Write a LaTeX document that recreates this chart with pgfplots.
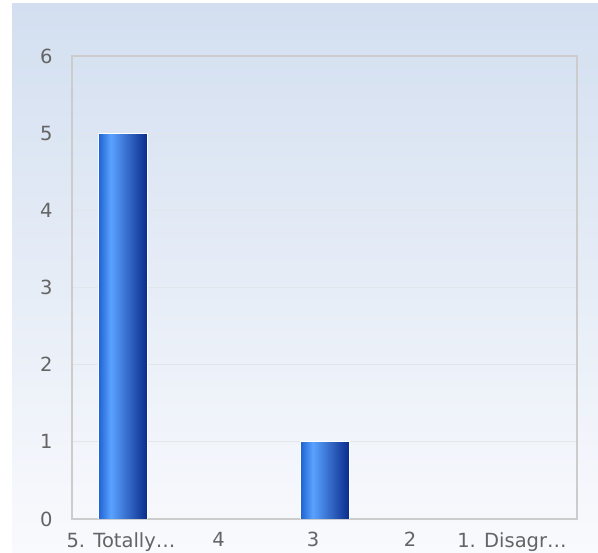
\documentclass[border=0pt]{standalone}
\usepackage{pgfplots}
\pgfplotsset{compat=1.18}
\usepackage{fontspec}
\setmainfont{DejaVu Sans}

\definecolor{bgtop}{RGB}{211,223,240}
\definecolor{bgbot}{RGB}{249,250,253}
\definecolor{gridc}{RGB}{226,229,234}
\definecolor{framec}{RGB}{204,204,204}
\definecolor{txt}{RGB}{100,100,100}
\definecolor{barA}{RGB}{28,96,208}
\definecolor{barB}{RGB}{90,162,255}
\definecolor{barC}{RGB}{10,44,140}

\pgfdeclarehorizontalshading{barshade}{100bp}{%
  color(0bp)=(barA); color(25bp)=(barA); color(38bp)=(barB);
  color(75bp)=(barC); color(100bp)=(barC)}

% answers per category (0 = "5. Totally...", ..., 4 = "1. Disagr...")
% 4 and 2 and 1 have no answers, so no bar
\begin{document}
\begin{tikzpicture}[x=1bp,y=1bp]
\path[use as bounding box] (0,0) rectangle (598,553);
\shade[top color=bgtop, bottom color=bgbot] (12,0) rectangle (598,549);
\begin{axis}[
    at={(72bp,34bp)}, anchor=south west,
    width=505bp, height=463bp, scale only axis,
    xmin=-0.5, xmax=4.5,
    ymin=0, ymax=6,
    ytick={0,1,2,3,4,5,6},
    xtick={-0.015,0.95,1.886,2.847,3.856},
    xticklabels={5. Totally\dots,4,3,2,1. Disagr\dots},
    major tick length=0pt,
    ymajorgrids=true,
    grid style={gridc, line width=1bp},
    axis line style={framec, line width=1.5bp},
    tick label style={txt, font=\fontsize{19.5bp}{23bp}\selectfont},
    /pgf/number format/assume math mode=true,
    yticklabel style={xshift=-16bp},
    xticklabel style={yshift=-10bp},
    mybar/.style={ybar, bar width=0.485, shading=barshade,
        draw=white, line width=0.8bp},
]
\addplot[mybar] coordinates {(0,5)};
\addplot[mybar] coordinates {(2,1)};
\end{axis}
\end{tikzpicture}
\end{document}
